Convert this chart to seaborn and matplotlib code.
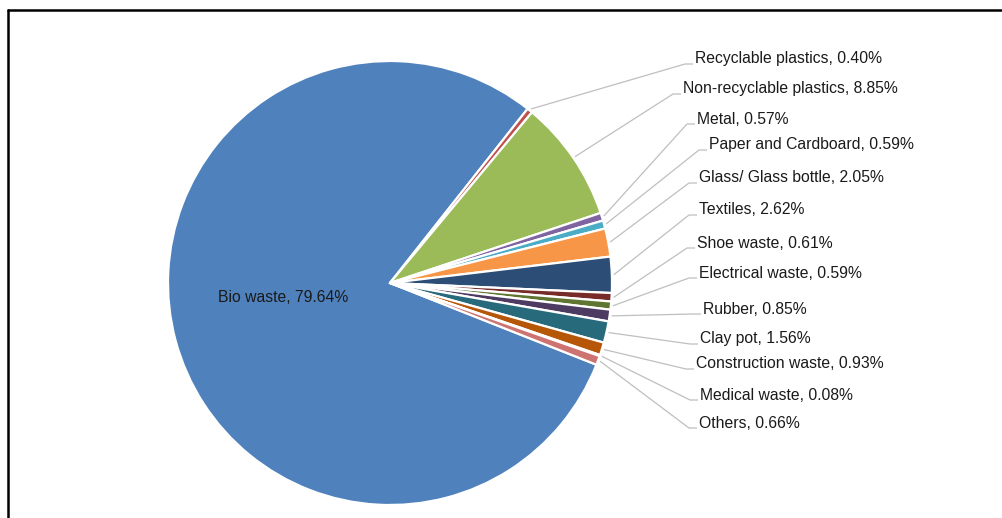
import numpy as np
import matplotlib
matplotlib.use("Agg")
import matplotlib.pyplot as plt
import seaborn as sns

# Waste composition (share of total, %)
categories = ["Bio waste", "Recyclable plastics", "Non-recyclable plastics", "Metal",
              "Paper and Cardboard", "Glass/ Glass bottle", "Textiles", "Shoe waste",
              "Electrical waste", "Rubber", "Clay pot", "Construction waste",
              "Medical waste", "Others"]
shares = [79.64, 0.40, 8.85, 0.57, 0.59, 2.05, 2.62, 0.61, 0.59, 0.85, 1.56, 0.93, 0.08, 0.66]

colors = ["#4F81BD", "#C0504D", "#9BBB59", "#8064A2", "#4BACC6", "#F79646", "#2C4D75",
          "#772C2A", "#5F7530", "#4D3B62", "#276A7C", "#B65708", "#729ACA", "#CD7371"]

sns.set_theme(style="white")
plt.rcParams["font.family"] = ["Liberation Sans", "DejaVu Sans"]

W, H = 1002, 518
fig = plt.figure(figsize=(W / 100, H / 100), dpi=100)
ax = fig.add_axes([0, 0, 1, 1])

# pixel-like coordinate system (y up)
cx, cy, R = 390, H - 283, 222
start = 338.4

wedges, _ = ax.pie(shares, colors=sns.color_palette(colors), startangle=start,
                   counterclock=False, center=(cx, cy), radius=R,
                   wedgeprops=dict(edgecolor="white", linewidth=1.6))
ax.set_xlim(0, W)
ax.set_ylim(0, H)
ax.set_aspect("auto")
ax.axis("off")

# label anchor points (left edge of text, vertical centre), in pixels from top-left
label_x = [None, 695, 683, 697, 709, 699, 699, 697, 699, 703, 700, 696, 700, 699]
label_y = [None, 59, 89, 119, 145, 178, 210, 243, 273, 309, 339, 364, 395, 423]

fs = 11.3
line_col = "#BFBFBF"
for i, (name, val, w) in enumerate(zip(categories, shares, wedges)):
    text = f"{name}, {val:.2f}%"
    if i == 0:
        ax.text(283, H - 297, text, ha="center", va="center", fontsize=fs, color="#1a1a1a")
        continue
    tx, ty = label_x[i], H - label_y[i]
    mid = np.deg2rad((w.theta1 + w.theta2) / 2)
    sx, sy = cx + (R + 2) * np.cos(mid), cy + (R + 2) * np.sin(mid)
    ey = ty - 5
    ax.plot([sx, tx - 10, tx - 2], [sy, ey, ey], color=line_col, lw=0.9,
            solid_capstyle="butt", zorder=1)
    ax.text(tx, ty, text, ha="left", va="center", fontsize=fs, color="#1a1a1a")

# chart frame (top and left edges visible)
ax.plot([8.5, W + 5], [H - 9.5, H - 9.5], color="black", lw=1.8, clip_on=False)
ax.plot([8.5, 8.5], [H - 9.5, -5], color="black", lw=1.8, clip_on=False)

fig.savefig("out.png", dpi=100)
